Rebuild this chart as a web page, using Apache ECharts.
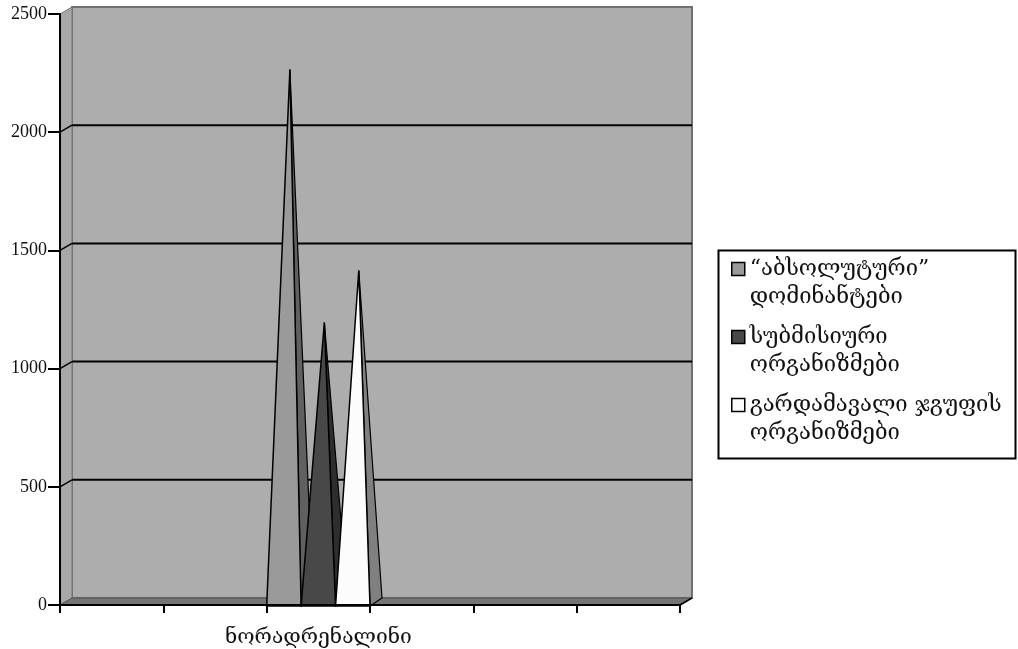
<!DOCTYPE html>
<html><head><meta charset="utf-8">
<script src="https://cdn.jsdelivr.net/npm/echarts@6/dist/echarts.min.js"></script>
<style>html,body{margin:0;background:#fff}#c{width:1018px;height:649px}</style>
</head><body><div id="c"></div>
<script>
const categories = ['', '', 'ნორადრენალინი', '', '', ''];
const seriesNames = ['“აბსოლუტური”\nდომინანტები', 'სუბმისიური\nორგანიზმები', 'გარდამავალი ჯგუფის\nორგანიზმები'];
const dominants = [null, null, 2250, null, null, null];
const submissive = [null, null, 1180, null, null, null];
const transitional = [null, null, 1400, null, null, null];
const yTicks = [0, 500, 1000, 1500, 2000, 2500];

const DX = 12, DY = -7;
const yMin = yTicks[0], yMax = yTicks[yTicks.length - 1];

function toData(arr) {
  return arr.map((v, i) => [i, v]).filter(d => d[1] != null);
}

function renderFrame(params, api) {
  const cs = params.coordSys;
  const x0 = cs.x, x1 = cs.x + cs.width;
  const yb = api.coord([0, yMin])[1], yt = api.coord([0, yMax])[1];
  const ch = [];
  ch.push({type: 'polygon', shape: {points: [[x0 + DX, yt + DY], [x1 + DX, yt + DY], [x1 + DX, yb + DY], [x0 + DX, yb + DY]]},
    style: {fill: '#adadad', stroke: '#6f6f6f', lineWidth: 2}});
  ch.push({type: 'polygon', shape: {points: [[x0, yt], [x0 + DX, yt + DY], [x0 + DX, yb + DY], [x0, yb]]},
    style: {fill: '#a8a8a8', stroke: '#7a7a7a', lineWidth: 1}});
  ch.push({type: 'polygon', shape: {points: [[x0, yb], [x0 + DX, yb + DY], [x1 + DX, yb + DY], [x1, yb]]},
    style: {fill: '#747474', stroke: '#555', lineWidth: 1}});
  yTicks.forEach(v => {
    const y = api.coord([0, v])[1];
    if (v > yMin && v < yMax) {
      ch.push({type: 'line', shape: {x1: x0 + DX, y1: y + DY, x2: x1 + DX, y2: y + DY}, style: {stroke: '#000', lineWidth: 2}});
      ch.push({type: 'line', shape: {x1: x0, y1: y, x2: x0 + DX, y2: y + DY}, style: {stroke: '#000', lineWidth: 1.5}});
    }
  });
  ch.push({type: 'line', shape: {x1: x1, y1: yb, x2: x1 + DX, y2: yb + DY}, style: {stroke: '#000', lineWidth: 1.5}});
  return {type: 'group', children: ch};
}

function makeCone(k, front, side) {
  return function (params, api) {
    const v = api.value(1);
    if (v == null || isNaN(v)) return;
    const cat = api.value(0);
    const bw = api.size([1, 0])[0];
    const base = api.coord([cat, 0]);
    const top = api.coord([cat, v]);
    const w = bw / 3;
    const l = base[0] - bw / 2 + k * w, r = l + w;
    const apex = [l + w / 2 + DX / 2, top[1] + DY / 2];
    return {type: 'group', children: [
      {type: 'polygon', shape: {points: [[r, base[1] + 1], [r + DX, base[1] + DY], apex]}, style: {fill: side, stroke: '#000', lineWidth: 1.2}},
      {type: 'polygon', shape: {points: [[l, base[1] + 1], [r, base[1] + 1], apex]}, style: {fill: front, stroke: '#000', lineWidth: 1.5}}
    ]};
  };
}

const fronts = ['#9a9a9a', '#484848', '#fcfcfc'];
const sides = ['#606060', '#2e2e2e', '#808080'];
const values = [dominants, submissive, transitional];

const chart = echarts.init(document.getElementById('c'), null, {renderer: 'canvas'});
chart.setOption({
  animation: false,
  backgroundColor: '#fff',
  grid: {left: 60, right: 338, top: 14, bottom: 44, containLabel: false, outerBoundsMode: 'none'},
  xAxis: {
    type: 'category', data: categories, z: 10,
    axisLine: {lineStyle: {color: '#000', width: 2}},
    axisTick: {show: true, interval: 0, length: 8, lineStyle: {color: '#000', width: 2}},
    axisLabel: {interval: 0, margin: 22, fontFamily: 'DejaVu Serif', fontSize: 21, color: '#111'},
    splitLine: {show: false}
  },
  yAxis: {
    type: 'value', min: yMin, max: yMax, interval: 500, z: 10,
    axisLine: {show: true, lineStyle: {color: '#000', width: 2}},
    axisTick: {show: true, length: 12, lineStyle: {color: '#000', width: 2}},
    axisLabel: {margin: 13, fontFamily: 'Liberation Serif', fontSize: 18, color: '#111', formatter: v => String(v)},
    splitLine: {show: false}
  },
  legend: {
    orient: 'vertical', left: 731, top: 227, padding: 0, itemGap: -16,
    itemWidth: 13, itemHeight: 13, icon: 'rect', selectedMode: false,
    itemStyle: {borderColor: '#000', borderWidth: 1.5},
    formatter: name => '\n' + name,
    textStyle: {fontFamily: 'DejaVu Serif', fontSize: 22, lineHeight: 28, color: '#111'},
    data: seriesNames
  },
  graphic: [{type: 'rect', left: 716, top: 248, shape: {width: 297, height: 208}, style: {fill: 'none', stroke: '#000', lineWidth: 2}, silent: true}],
  series: [
    {type: 'custom', name: 'frame', renderItem: renderFrame, data: [[0, 0]], z: 1, silent: true}
  ].concat(values.map((arr, k) => ({
    type: 'custom', name: seriesNames[k], renderItem: makeCone(k, fronts[k], sides[k]),
    data: toData(arr), encode: {x: 0, y: 1}, z: 3,
    itemStyle: {color: fronts[k]}
  })))
});
</script></body></html>
